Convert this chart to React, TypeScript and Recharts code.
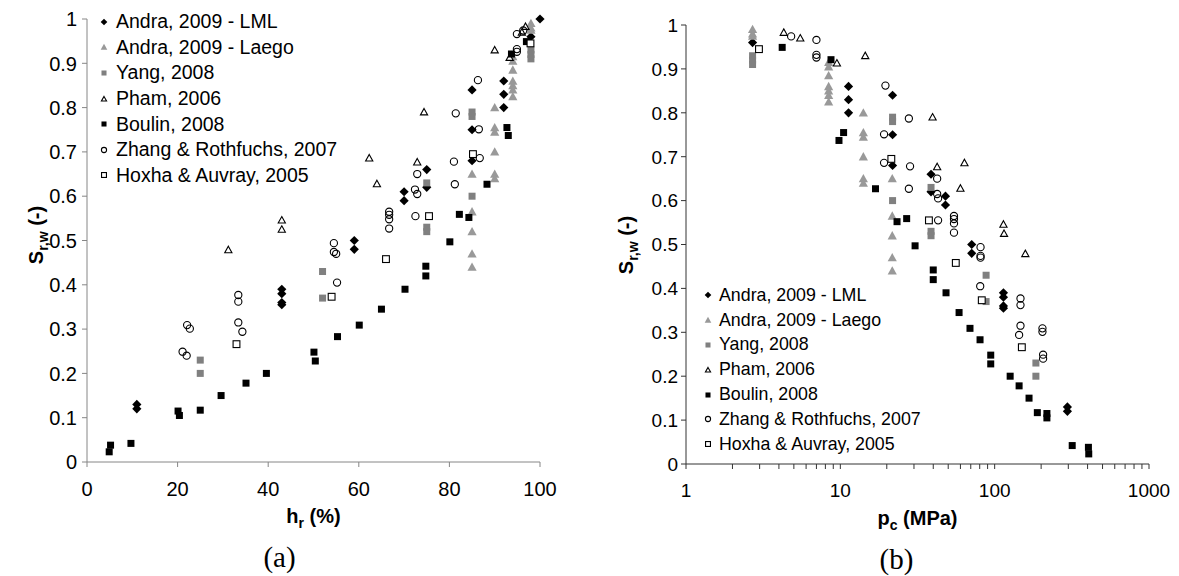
import { Legend, Scatter, ScatterChart, XAxis, YAxis } from 'recharts';

// each point: [h_r (%), p_c (MPa), S_r,w (-)]; p_c is null where h_r = 100 %
type Pt = [number, number | null, number];

const andraLml: Pt[] = [
  [100, null, 1.0],
  [98, 2.7, 0.96],
  [92, 11.3, 0.86], [92, 11.3, 0.83], [92, 11.3, 0.8],
  [85, 21.8, 0.84], [85, 21.8, 0.75], [85, 21.8, 0.68],
  [75, 38.7, 0.66], [75, 38.7, 0.62],
  [70, 48, 0.61], [70, 48, 0.59],
  [59, 71, 0.5], [59, 71, 0.48],
  [43, 114, 0.39], [43, 114, 0.38], [43, 114, 0.36], [43, 114, 0.355],
  [11, 296, 0.13], [11, 296, 0.12],
];

const andraLaego: Pt[] = [
  [98, 2.7, 0.99], [98, 2.7, 0.98], [98, 2.7, 0.975],
  [94, 8.4, 0.915], [94, 8.4, 0.905], [94, 8.4, 0.885], [94, 8.4, 0.86],
  [94, 8.4, 0.85], [94, 8.4, 0.84], [94, 8.4, 0.825],
  [90, 14.1, 0.8], [90, 14.1, 0.755], [90, 14.1, 0.745], [90, 14.1, 0.7],
  [90, 14.1, 0.65], [90, 14.1, 0.64],
  [85, 21.7, 0.65], [85, 21.7, 0.565], [85, 21.7, 0.52], [85, 21.7, 0.47], [85, 21.7, 0.44],
];

const yang: Pt[] = [
  [98, 2.7, 0.93], [98, 2.7, 0.92], [98, 2.7, 0.91],
  [85, 21.8, 0.79], [85, 21.8, 0.78], [85, 21.8, 0.6],
  [75, 38.7, 0.63], [75, 38.7, 0.53], [75, 38.7, 0.52],
  [52, 88, 0.43], [52, 88, 0.37],
  [25, 185, 0.23], [25, 185, 0.2],
];

const pham: Pt[] = [
  [96.8, 4.3, 0.983], [96, 5.5, 0.97], [93.3, 9.5, 0.913], [90, 14.5, 0.93],
  [74.4, 39.6, 0.79], [72.9, 42.4, 0.677], [62.3, 63.7, 0.686], [64, 60, 0.628],
  [43, 114, 0.546], [43, 115, 0.525], [31.2, 158, 0.479],
];

const boulin: Pt[] = [
  [97, 4.2, 0.949], [93.7, 8.7, 0.921], [92.7, 10.5, 0.755], [93, 9.8, 0.737],
  [88.3, 16.9, 0.627], [84.3, 23.3, 0.552], [82.2, 26.9, 0.559], [80.1, 30.5, 0.497],
  [74.8, 40, 0.442], [74.8, 40, 0.42], [70.2, 48.4, 0.39], [65, 58.8, 0.345],
  [60.1, 69.2, 0.309], [55.3, 80.4, 0.283], [50.1, 94.3, 0.248], [50.4, 94.3, 0.228],
  [39.6, 126, 0.2], [35.1, 144, 0.178], [29.6, 167, 0.15], [25, 189, 0.117],
  [20.1, 218, 0.115], [20.4, 218, 0.105], [9.7, 318, 0.042], [5.2, 405, 0.038],
  [4.9, 407, 0.023],
];

const zhang: Pt[] = [
  [96.3, 4.8, 0.974], [94.9, 7.0, 0.966], [94.9, 7.0, 0.932], [94.9, 7.0, 0.926],
  [86.3, 19.6, 0.862], [81.4, 27.8, 0.787], [86.5, 19.2, 0.751], [86.7, 19.2, 0.686],
  [81, 28.3, 0.678], [81.2, 27.8, 0.627],
  [72.9, 42.4, 0.65], [72.4, 42.4, 0.615], [72.9, 43, 0.605], [72.5, 43, 0.555],
  [66.7, 54.5, 0.565], [66.7, 54.5, 0.558], [66.7, 54.5, 0.548], [66.7, 54.5, 0.527],
  [54.5, 81, 0.494], [54.5, 81, 0.474], [55, 81, 0.47], [55.2, 80.6, 0.405],
  [33.4, 147, 0.377], [33.4, 147, 0.362], [33.4, 147, 0.315], [34.3, 144, 0.294],
  [22.1, 204, 0.309], [22.7, 204, 0.301], [21.1, 206, 0.249], [22, 206, 0.24],
];

const hoxha: Pt[] = [
  [97.9, 2.97, 0.945], [85.2, 21.4, 0.695], [75.5, 37.5, 0.555],
  [66, 56, 0.458], [54, 82.5, 0.373], [33, 150, 0.266],
];

const hrTicks = [0, 20, 40, 60, 80, 100];
const srTicks = [0, 0.1, 0.2, 0.3, 0.4, 0.5, 0.6, 0.7, 0.8, 0.9, 1];
const pcMajor = [1, 10, 100, 1000];
const pcMinor = [2, 3, 4, 5, 6, 7, 8, 9, 20, 30, 40, 50, 60, 70, 80, 90, 200, 300, 400, 500, 600, 700, 800, 900];

type Kind = 'diamond' | 'triangle' | 'square' | 'openTriangle' | 'blackSquare' | 'circle' | 'openSquare';

const series: { name: string; points: Pt[]; kind: Kind; color: string }[] = [
  { name: 'Andra, 2009 - LML', points: andraLml, kind: 'diamond', color: '#000000' },
  { name: 'Andra, 2009 - Laego', points: andraLaego, kind: 'triangle', color: '#999999' },
  { name: 'Yang, 2008', points: yang, kind: 'square', color: '#808080' },
  { name: 'Pham, 2006', points: pham, kind: 'openTriangle', color: '#000000' },
  { name: 'Boulin, 2008', points: boulin, kind: 'blackSquare', color: '#000000' },
  { name: 'Zhang & Rothfuchs, 2007', points: zhang, kind: 'circle', color: '#000000' },
  { name: 'Hoxha & Auvray, 2005', points: hoxha, kind: 'openSquare', color: '#000000' },
];

const SANS = '"Liberation Sans", Arial, sans-serif';
const SERIF = '"Liberation Serif", "Times New Roman", serif';

function Marker({ kind, cx, cy, color, s = 1 }: { kind: Kind; cx: number; cy: number; color: string; s?: number }) {
  switch (kind) {
    case 'diamond': {
      const r = 4.6 * s;
      return <polygon points={`${cx},${cy - r} ${cx + r},${cy} ${cx},${cy + r} ${cx - r},${cy}`} fill={color} />;
    }
    case 'triangle': {
      const r = 4.6 * s;
      return <polygon points={`${cx},${cy - r} ${cx + r},${cy + r * 0.8} ${cx - r},${cy + r * 0.8}`} fill={color} />;
    }
    case 'openTriangle': {
      const r = 3.6 * s;
      return (
        <polygon
          points={`${cx},${cy - r} ${cx + r},${cy + r * 0.8} ${cx - r},${cy + r * 0.8}`}
          fill="#fff"
          stroke={color}
          strokeWidth={1.1}
        />
      );
    }
    case 'square':
    case 'blackSquare': {
      const h = 3.5 * s;
      return <rect x={cx - h} y={cy - h} width={h * 2} height={h * 2} fill={color} />;
    }
    case 'openSquare': {
      const h = 3.4 * s;
      return <rect x={cx - h} y={cy - h} width={h * 2} height={h * 2} fill="#fff" stroke={color} strokeWidth={1.1} />;
    }
    case 'circle':
    default:
      return <circle cx={cx} cy={cy} r={3.6 * s} fill="none" stroke={color} strokeWidth={1.1} />;
  }
}

const fmtSr = (v: number) => String(Math.round(v * 10) / 10);

const yTick = (fontSize: number) => (p: any) => (
  <text x={p.x} y={p.y} dy="0.36em" textAnchor="end" fontSize={fontSize} fontFamily={SANS} fill="#000">
    {fmtSr(p.payload.value)}
  </text>
);

const xTick = (fontSize: number, only?: number[]) => (p: any) =>
  only && !only.includes(p.payload.value) ? (
    <g />
  ) : (
    <text x={p.x} y={p.y} dy="0.71em" textAnchor="middle" fontSize={fontSize} fontFamily={SANS} fill="#000">
      {p.payload.value}
    </text>
  );

function YTitle({ viewBox, cy }: any) {
  const x = (viewBox?.x ?? 0) + 43;
  return (
    <text
      x={x}
      y={cy}
      transform={`rotate(-90 ${x} ${cy})`}
      textAnchor="middle"
      fontFamily={SANS}
      fontWeight="bold"
      fontSize={20}
      fill="#000"
    >
      S<tspan fontSize={14} dy={5}>r,w</tspan>
      <tspan dy={-5}> (-)</tspan>
    </text>
  );
}

function XTitle({ viewBox, main, sub, unit, caption, capShift }: any) {
  const { x = 0, y = 0, width = 0 } = viewBox ?? {};
  const mid = x + width / 2;
  return (
    <g>
      <text x={mid} y={y + 61} textAnchor="middle" fontFamily={SANS} fontWeight="bold" fontSize={20} fill="#000">
        {main}
        <tspan fontSize={14} dy={5}>{sub}</tspan>
        <tspan dy={-5}> {unit}</tspan>
      </text>
      <text x={mid + capShift} y={y + 105} textAnchor="middle" fontFamily={SERIF} fontSize={29} fill="#000">
        {caption}
      </text>
    </g>
  );
}

function LegendBox({ fontSize, rowH, gap }: { fontSize: number; rowH: number; gap: number }) {
  return (
    <div style={{ fontFamily: SANS, fontSize, color: '#000' }}>
      {series.map((s) => (
        <div key={s.name} style={{ display: 'flex', alignItems: 'center', height: rowH, whiteSpace: 'nowrap' }}>
          <svg width={12} height={12} style={{ marginRight: gap, flex: 'none' }}>
            <Marker kind={s.kind} cx={6} cy={6} color={s.color} s={0.72} />
          </svg>
          <span>{s.name}</span>
        </div>
      ))}
    </div>
  );
}

function HrPanel() {
  return (
    <ScatterChart width={560} height={576} margin={{ top: 19, right: 20, bottom: 0, left: 0 }}>
      <XAxis
        type="number"
        dataKey="hr"
        domain={[0, 100]}
        ticks={hrTicks}
        interval={0}
        height={114}
        stroke="#868686"
        tickSize={5}
        tickMargin={15}
        tick={xTick(20)}
        label={{ content: (p: any) => <XTitle {...p} main="h" sub="r" unit="(%)" caption="(a)" capShift={-34} /> }}
      />
      <YAxis
        type="number"
        dataKey="sr"
        domain={[0, 1]}
        ticks={srTicks}
        interval={0}
        width={87}
        stroke="#868686"
        tickSize={5}
        tickMargin={5}
        tick={yTick(20)}
        label={{ content: (p: any) => <YTitle {...p} cy={235} /> }}
      />
      <Legend
        layout="vertical"
        align="center"
        verticalAlign="middle"
        wrapperStyle={{ left: 98, top: 9, width: 'auto', height: 'auto' }}
        content={() => <LegendBox fontSize={19.5} rowH={25.6} gap={6} />}
      />
      {series.map((s) => (
        <Scatter
          key={s.name}
          name={s.name}
          data={s.points.map(([hr, , sr]) => ({ hr, sr }))}
          isAnimationActive={false}
          shape={(p: any) => <Marker kind={s.kind} cx={p.cx} cy={p.cy} color={s.color} />}
        />
      ))}
    </ScatterChart>
  );
}

function PcPanel() {
  return (
    <ScatterChart width={589} height={576} margin={{ top: 25, right: 30, bottom: 0, left: 0 }}>
      <XAxis
        type="number"
        dataKey="pc"
        scale="log"
        domain={[1, 1000]}
        ticks={[...pcMajor, ...pcMinor].sort((a, b) => a - b)}
        interval={0}
        height={112}
        stroke="#333333"
        tickSize={5}
        tickMargin={15}
        tick={xTick(19, pcMajor)}
        label={{ content: (p: any) => <XTitle {...p} main="p" sub="c" unit="(MPa)" caption="(b)" capShift={-21} /> }}
      />
      <YAxis
        type="number"
        dataKey="sr"
        domain={[0, 1]}
        ticks={srTicks}
        interval={0}
        width={96}
        stroke="#333333"
        tickSize={5}
        tickMargin={3}
        tick={yTick(19)}
        label={{ content: (p: any) => <YTitle {...p} cy={245} /> }}
      />
      <Legend
        layout="vertical"
        align="center"
        verticalAlign="middle"
        wrapperStyle={{ left: 112, top: 283, width: 'auto', height: 'auto' }}
        content={() => <LegendBox fontSize={17.8} rowH={24.8} gap={5} />}
      />
      {series.map((s) => (
        <Scatter
          key={s.name}
          name={s.name}
          data={s.points.filter(([, pc]) => pc !== null).map(([, pc, sr]) => ({ pc, sr }))}
          isAnimationActive={false}
          shape={(p: any) => <Marker kind={s.kind} cx={p.cx} cy={p.cy} color={s.color} />}
        />
      ))}
    </ScatterChart>
  );
}

export default function App() {
  return (
    <div style={{ position: 'absolute', left: 0, top: 0, width: 1179, height: 576, background: '#fff' }}>
      <div style={{ position: 'absolute', left: 0, top: 0 }}>
        <HrPanel />
      </div>
      <div style={{ position: 'absolute', left: 590, top: 0 }}>
        <PcPanel />
      </div>
    </div>
  );
}
